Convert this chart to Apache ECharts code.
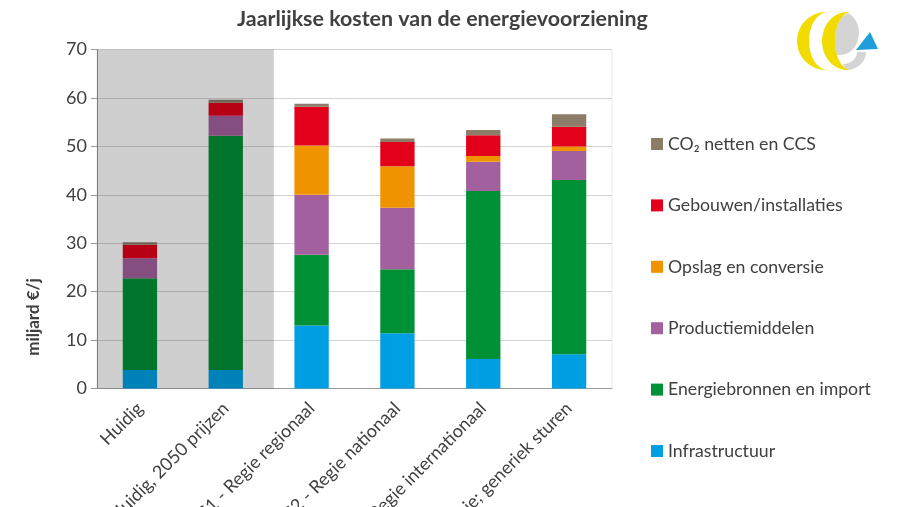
<!DOCTYPE html>
<html>
<head>
<meta charset="utf-8">
<style>html,body{margin:0;padding:0;background:#fff}#chart{width:900px;height:507px}</style>
<script src="https://cdn.jsdelivr.net/npm/echarts@6/dist/echarts.min.js"></script>
</head>
<body>
<div id="chart"></div>
<script>
var categories = ['Huidig', 'Huidig, 2050 prijzen', 'S1 - Regie regionaal', 'S2 - Regie nationaal', 'S3 - Regie internationaal', 'S4 - Regie; generiek sturen'];

var infrastructuur = [3.8, 3.8, 13.0, 11.4, 6.1, 7.05];
var energiebronnen = [18.95, 48.4, 14.6, 13.2, 34.7, 36.0];
var productie = [4.15, 4.1, 12.4, 12.7, 6.0, 6.0];
var opslag = [0, 0, 10.2, 8.6, 1.2, 0.9];
var gebouwen = [2.8, 2.7, 8.0, 5.0, 4.3, 4.1];
var co2 = [0.5, 0.6, 0.6, 0.7, 1.1, 2.6];

var seriesNames = ['Infrastructuur', 'Energiebronnen en import', 'Productiemiddelen', 'Opslag en conversie', 'Gebouwen/installaties', 'CO₂ netten en CCS'];
var seriesValues = [infrastructuur, energiebronnen, productie, opslag, gebouwen, co2];
var seriesColors = ['#009fe3', '#009036', '#a3609f', '#ef9300', '#e2001a', '#8b7d67'];

// grey block behind the two "Huidig" bars, in category units
var shadedEnd = 2.06;

var textColor = '#404040';
var fontName = 'Lato';

var chart = echarts.init(document.getElementById('chart'));

var series = seriesNames.map(function (name, i) {
	return {
		name: name,
		type: 'bar',
		stack: 'kosten',
		barWidth: '40%',
		itemStyle: { color: seriesColors[i] },
		data: seriesValues[i]
	};
});

// the block darkens bars and gridlines too, so it lies on top
series.push({
	type: 'line',
	xAxisIndex: 1,
	data: [],
	silent: true,
	markArea: {
		z: 10,
		silent: true,
		itemStyle: { color: 'rgba(0,0,0,0.19)' },
		data: [[{ coord: [0, 0] }, { coord: [shadedEnd, 70] }]]
	}
});

// logo pieces: elliptical arc as a list of points, angles in degrees
function arc(cx, cy, rx, ry, from, to) {
	var pts = [];
	for (var i = 0; i <= 24; i++) {
		var a = (from + (to - from) * i / 24) * Math.PI / 180;
		pts.push([cx + rx * Math.cos(a), cy + ry * Math.sin(a)]);
	}
	return pts;
}

function logoPiece(points, fill) {
	return { type: 'polygon', shape: { points: points }, style: { fill: fill } };
}

chart.setOption({
	animation: false,
	textStyle: { fontFamily: fontName },
	title: {
		text: 'Jaarlijkse kosten van de energievoorziening',
		left: 232,
		top: 4,
		textStyle: { fontFamily: fontName, fontSize: 21.4, fontWeight: 'bold', color: textColor }
	},
	grid: {
		left: 97,
		right: 288,
		top: 49.5,
		bottom: 118.5,
		outerBoundsMode: 'none',
		show: true,
		backgroundColor: 'transparent',
		borderColor: '#e8e8e8',
		borderWidth: 1
	},
	legend: {
		orient: 'vertical',
		left: 651,
		top: 135,
		padding: 0,
		icon: 'rect',
		itemWidth: 12,
		itemHeight: 12,
		itemGap: 43.4,
		selectedMode: false,
		data: seriesNames.slice().reverse(),
		textStyle: { fontFamily: fontName, fontSize: 17.7, color: textColor }
	},
	xAxis: [{
		type: 'category',
		data: categories,
		axisLine: { lineStyle: { color: '#999999' } },
		axisTick: { length: 6, lineStyle: { color: '#999999' } },
		axisLabel: { rotate: 45, interval: 0, fontSize: 18, color: textColor, margin: 17 }
	}, {
		type: 'value',
		show: false,
		min: 0,
		max: categories.length
	}],
	yAxis: {
		type: 'value',
		min: 0,
		max: 70,
		interval: 10,
		axisLine: { show: true, lineStyle: { color: '#999999' } },
		axisTick: { show: true, length: 6, lineStyle: { color: '#999999' } },
		axisLabel: { fontSize: 18, color: textColor, margin: 10 },
		splitLine: { lineStyle: { color: '#d4d4d4' } }
	},
	graphic: [
		{
			type: 'text',
			x: 34,
			y: 317,
			rotation: Math.PI / 2,
			style: { text: 'miljard €/j', font: 'bold 17px Lato', fill: textColor, textAlign: 'center', textVerticalAlign: 'middle' }
		},
		// logo
		logoPiece(arc(840, 33, 19, 22, -65, 100).concat(arc(851, 41, 16, 29, 165, 240)), '#d4d4d4'),
		logoPiece(arc(846, 52, 20, 18, 90, 0).concat(arc(843, 52, 14, 12, 0, 90)), '#d4d4d4'),
		logoPiece(arc(826, 41, 29, 29, 270, 90).concat(arc(828, 41, 19, 29, 90, 270)), '#f2dc00'),
		logoPiece(arc(847, 41, 25, 29, 270, 90).concat(arc(851, 41, 16, 29, 90, 270)), '#f2dc00'),
		logoPiece([[870, 32], [878, 49], [856, 50]], '#1e9fdc')
	],
	series: series
});

window.addEventListener('resize', function () {
	chart.resize();
});
</script>
</body>
</html>
